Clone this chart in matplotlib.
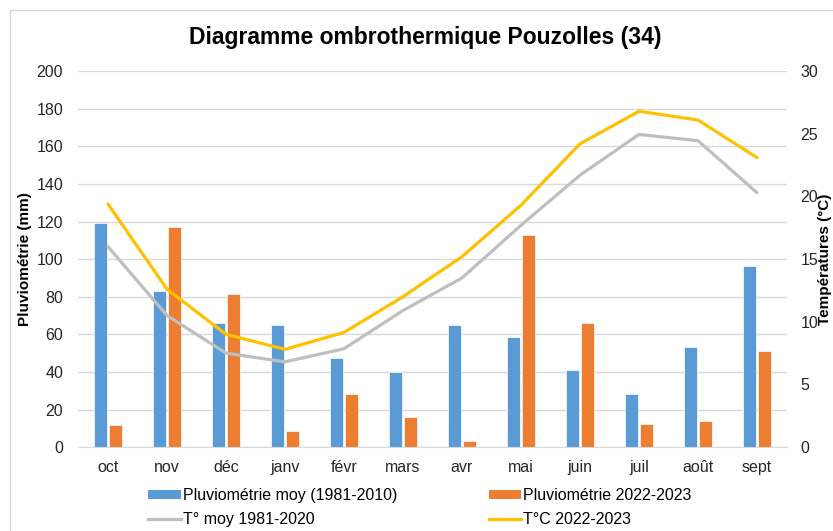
import matplotlib.pyplot as plt
import numpy as np
from matplotlib.lines import Line2D
from matplotlib.patches import Patch

plt.rcParams["font.family"] = ["Liberation Sans", "DejaVu Sans"]

mois = ["oct", "nov", "déc", "janv", "févr", "mars", "avr", "mai", "juin", "juil", "août", "sept"]
pluvio_moy = [119, 83, 66, 64.7, 47.5, 40, 65.2, 58.5, 41, 28.5, 53.4, 96.4]
pluvio_2223 = [12, 117, 81.7, 8.5, 28.5, 15.8, 3.5, 112.6, 66, 12.4, 14, 50.9]
temp_moy = [16.0, 10.5, 7.5, 6.8, 7.85, 10.9, 13.5, 17.7, 21.7, 24.95, 24.45, 20.3]
temp_2223 = [19.4, 12.6, 9.0, 7.8, 9.15, 12.0, 15.2, 19.3, 24.2, 26.8, 26.1, 23.1]

BLUE = "#5B9BD5"
ORANGE = "#ED7D31"
GREY = "#BFBFBF"
YELLOW = "#FFC000"

fig = plt.figure(figsize=(8.33, 5.31), dpi=100)
ax = fig.add_axes([0.0942, 0.158, 0.850, 0.708])
ax2 = ax.twinx()

x = np.arange(len(mois))
w = 0.225
ax.bar(x - 0.125, pluvio_moy, width=w, color=BLUE, edgecolor="white", linewidth=0.5, zorder=2)
ax.bar(x + 0.125, pluvio_2223, width=w, color=ORANGE, edgecolor="white", linewidth=0.5, zorder=2)

ax2.plot(x, temp_moy, color=GREY, linewidth=2.3, solid_capstyle="round")
ax2.plot(x, temp_2223, color=YELLOW, linewidth=2.3, solid_capstyle="round")

ax.set_xlim(-0.5, len(mois) - 0.5)
ax.set_ylim(0, 200)
ax.set_yticks(range(0, 201, 20))
ax2.set_ylim(0, 30)
ax2.set_yticks(range(0, 31, 5))

ax.set_xticks(x)
ax.set_xticklabels(mois)
ax.grid(axis="y", color="#D9D9D9", linewidth=1)
ax.set_axisbelow(True)

for a in (ax, ax2):
    for s in ("top", "left", "right"):
        a.spines[s].set_visible(False)
    a.tick_params(length=0, labelsize=11.5, colors="#262626")
ax.spines["bottom"].set_color("#D9D9D9")
ax2.spines["bottom"].set_visible(False)
ax.tick_params(axis="x", pad=9)
ax.tick_params(axis="y", pad=11)
ax2.tick_params(axis="y", pad=10)

ax.set_ylabel("Pluviométrie (mm)", fontsize=11, fontweight="bold")
ax.yaxis.set_label_coords(-0.066, 0.5)
ax2.set_ylabel("Températures (°C)", fontsize=11, fontweight="bold")
ax2.yaxis.set_label_coords(1.045, 0.5)

fig.text(0.51, 0.93, "Diagramme ombrothermique Pouzolles (34)",
         ha="center", va="center", fontsize=16.5, fontweight="bold")

# order so that rows read: pluvio moy | pluvio 22-23, then T moy | T 22-23
handles = [
    Patch(facecolor=BLUE, label="Pluviométrie moy (1981-2010)"),
    Line2D([], [], color=GREY, linewidth=2.3, label="T° moy 1981-2020"),
    Patch(facecolor=ORANGE, label="Pluviométrie 2022-2023"),
    Line2D([], [], color=YELLOW, linewidth=2.3, label="T°C 2022-2023"),
]
fig.legend(handles=handles, ncol=2, loc="center", bbox_to_anchor=(0.504, 0.044),
           frameon=False, fontsize=11.5, handlelength=2.05, handleheight=0.5,
           handletextpad=0.1, columnspacing=5.75, labelspacing=0.6)

# chart border (left and top edges visible in the crop)
fig.add_artist(Line2D([0.012, 0.012], [0, 0.981], color="#D9D9D9", linewidth=1,
                      transform=fig.transFigure))
fig.add_artist(Line2D([0.012, 1], [0.981, 0.981], color="#D9D9D9", linewidth=1,
                      transform=fig.transFigure))

fig.savefig("out.png", dpi=100)
